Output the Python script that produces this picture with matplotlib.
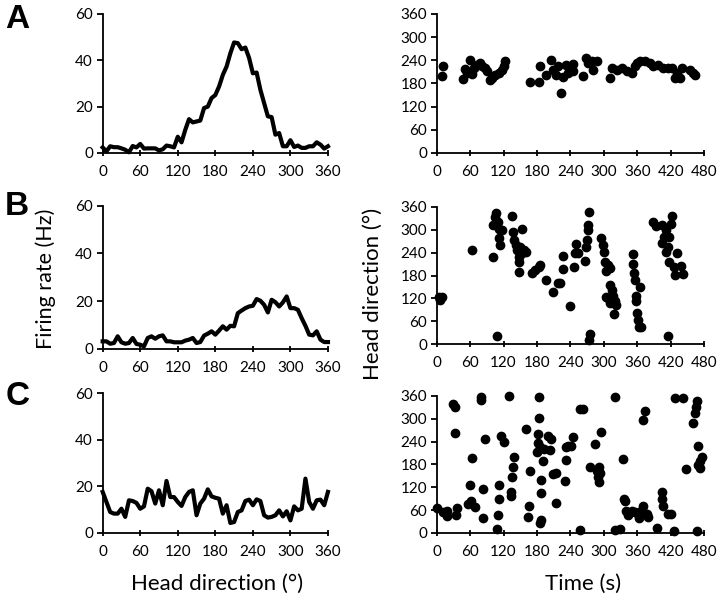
import numpy as np
import matplotlib.pyplot as plt

plt.rcParams['font.family'] = ['Lato', 'DejaVu Sans']

# Tuning curves: firing rate (Hz) in 6-degree bins, 0..360
hd_bins = list(range(0, 361, 6))
rate_a = [2.4, 0.7, 2.9, 2.5, 2.5, 2.0, 1.4, 0.3, 3.0, 2.4, 3.9, 1.9, 2.0, 2.0, 2.0, 1.1,
          1.6, 3.2, 2.9, 2.4, 7.0, 4.6, 10.0, 14.6, 13.2, 13.6, 14.0, 19.4, 20.0, 23.7, 25.0,
          28.7, 33.7, 37.3, 43.0, 47.7, 47.4, 44.8, 45.5, 41.0, 34.4, 34.7, 27.3, 21.5, 15.8,
          15.5, 7.9, 8.6, 2.9, 2.9, 5.5, 2.6, 3.2, 2.2, 2.2, 2.9, 2.9, 4.6, 3.6, 1.9, 2.9]
rate_b = [3.2, 3.2, 2.2, 2.5, 5.3, 2.8, 2.2, 2.5, 4.6, 2.1, 1.8, 1.1, 4.6, 5.3, 4.3, 5.3,
          5.7, 3.2, 3.2, 2.8, 2.8, 2.8, 3.5, 3.9, 4.6, 2.5, 2.9, 5.6, 6.4, 7.4, 6.0,
          7.7, 9.5, 8.1, 9.7, 9.5, 15.0, 16.1, 17.1, 17.8, 18.1, 20.9, 20.2, 18.5, 15.3,
          20.6, 19.6, 17.8, 19.5, 22.0, 17.1, 17.1, 16.4, 12.9, 9.7, 6.0, 5.7, 7.4, 3.9, 2.9, 2.9]
rate_c = [17.6, 13.3, 9.0, 8.3, 8.3, 10.4, 6.9, 14.0, 13.7, 12.9, 10.4, 11.4, 19.0, 17.9, 12.6, 18.3,
          11.9, 22.3, 15.4, 15.4, 13.3, 11.6, 15.4, 17.6, 18.3, 7.6, 12.6, 14.7, 18.7, 15.7, 15.1,
          14.7, 8.3, 11.9, 4.3, 4.7, 9.0, 9.7, 13.7, 14.3, 11.9, 14.4, 13.7, 7.6, 6.6,
          6.9, 7.6, 9.7, 7.1, 9.3, 5.4, 11.4, 9.7, 10.4, 23.3, 13.3, 10.4, 14.0, 14.3, 11.9, 17.6]

# Head direction over time: (time s, head direction deg)
time_a = [10, 12, 48, 50, 54, 59, 63, 67, 72, 77, 81, 87, 91, 95, 99, 105, 111, 117, 120, 123,
          168, 184, 186, 197, 206, 209, 215, 218, 224, 227, 232, 236, 244, 245, 263, 269, 272,
          278, 281, 287, 311, 314, 323, 332, 341, 350, 356, 359, 365, 374, 383, 389, 398, 407,
          416, 422, 428, 431, 437, 440, 455, 461, 464]
dir_a = [200, 224, 191, 218, 207, 240, 205, 220, 228, 234, 224, 220, 211, 188, 194, 202, 207, 215,
         224, 237, 185, 185, 224, 202, 241, 215, 202, 224, 155, 198, 228, 207, 231, 211, 200, 245,
         233, 237, 214, 237, 194, 220, 215, 220, 211, 207, 224, 234, 237, 237, 233, 224, 228, 220,
         220, 220, 194, 207, 194, 220, 215, 207, 202]

time_b = [5, 6, 9, 63, 101, 102, 105, 107, 109, 110, 111, 112, 114, 117, 135, 137, 139, 142, 144,
          147, 148, 150, 153, 148, 154, 156, 160, 171, 177, 183, 186, 197, 208, 218, 221, 226, 226,
          239, 247, 248, 251, 254, 266, 269, 270, 272, 272, 274, 275, 274, 295, 298, 300, 302, 304,
          308, 312, 304, 308, 311, 312, 314, 317, 320, 318, 322, 352, 353, 354, 356, 357, 358, 360,
          361, 363, 365, 367, 389, 394, 404, 408, 412, 415, 404, 411, 416, 418, 422, 420, 427, 428,
          431, 439, 442, 418]
dir_b = [125, 116, 123, 247, 228, 312, 334, 343, 22, 321, 303, 277, 260, 299, 336, 295, 273, 260, 247,
         229, 216, 255, 238, 190, 303, 247, 242, 187, 194, 203, 208, 168, 138, 160, 160, 197, 231,
         101, 203, 240, 262, 238, 218, 255, 273, 299, 312, 345, 27, 10, 277, 260, 241, 216, 193,
         208, 200, 125, 120, 107, 155, 142, 126, 112, 79, 103, 235, 210, 186, 168, 126, 112, 81,
         64, 46, 151, 44, 321, 310, 312, 282, 299, 23, 264, 242, 255, 216, 336, 316, 203, 181,
         238, 205, 183, 282]

time_c = [1, 12, 18, 19, 29, 32, 33, 35, 36, 57, 61, 59, 63, 69, 80, 80, 83, 84, 87, 109, 110, 111,
          111, 115, 121, 129, 133, 134, 135, 137, 138, 160, 164, 166, 167, 184, 184, 182, 182, 181,
          185, 188, 186, 188, 188, 190, 192, 199, 205, 203, 209, 214, 215, 230, 232, 233, 236, 242,
          244, 257, 257, 262, 276, 284, 287, 290, 291, 292, 293, 295, 320, 320, 329, 334, 336, 338,
          340, 344, 350, 356, 360, 364, 368, 371, 374, 371, 377, 380, 396, 404, 405, 406, 416, 420,
          426, 428, 443, 447, 461, 464, 466, 467, 469, 470, 473, 476, 467, 473]
dir_c = [66, 55, 44, 59, 340, 331, 264, 46, 66, 77, 84, 125, 196, 68, 357, 349, 40, 116, 247, 11, 46,
         125, 90, 255, 238, 360, 97, 109, 146, 174, 199, 273, 42, 70, 162, 357, 303, 260, 236, 214,
         225, 35, 26, 105, 138, 190, 222, 255, 247, 218, 155, 157, 80, 136, 192, 225, 229, 228,
         253, 7, 325, 325, 174, 234, 164, 146, 133, 174, 157, 266, 357, 7, 11, 194, 90, 84,
         59, 46, 59, 55, 52, 39, 61, 70, 321, 296, 51, 42, 13, 107, 90, 72, 51, 51,
         5, 354, 354, 168, 288, 316, 330, 347, 229, 179, 190, 199, 5, 171]

rates = [rate_a, rate_b, rate_c]
times = [time_a, time_b, time_c]
dirs = [dir_a, dir_b, dir_c]
letters = ['A', 'B', 'C']

fig = plt.figure(figsize=(7.2, 5.99), dpi=100)

# axes rectangles (left, bottom, width, height) in figure fraction
left_rows = [(0.1426, 0.7446, 0.3129, 0.2321),
             (0.1426, 0.4174, 0.3129, 0.2392),
             (0.1426, 0.1102, 0.3129, 0.2337)]
right_rows = [(0.6065, 0.7446, 0.3713, 0.2321),
              (0.6065, 0.4252, 0.3713, 0.2297),
              (0.6065, 0.1102, 0.3713, 0.2287)]
letter_y = [0.968, 0.656, 0.338]


def style(ax):
    for s in ['top', 'right']:
        ax.spines[s].set_visible(False)
    for s in ['left', 'bottom']:
        ax.spines[s].set_linewidth(1.3)
    ax.tick_params(axis='y', direction='out', length=4, width=1.3, labelsize=11, pad=3)
    ax.tick_params(axis='x', direction='inout', length=5, width=1.3, labelsize=11, pad=6)


for i in range(3):
    ax = fig.add_axes(left_rows[i])
    ax.plot(hd_bins, rates[i], color='black', lw=3, solid_joinstyle='round', clip_on=False)
    ax.set_xlim(0, 360)
    ax.set_ylim(0, 60)
    ax.set_xticks(range(0, 361, 60))
    ax.set_yticks(range(0, 61, 20))
    style(ax)

    ax2 = fig.add_axes(right_rows[i])
    ax2.plot(times[i], dirs[i], 'o', color='black', ms=6, clip_on=False)
    ax2.set_xlim(0, 480)
    ax2.set_ylim(0, 360)
    ax2.set_xticks(range(0, 481, 60))
    ax2.set_yticks(range(0, 361, 60))
    style(ax2)

    fig.text(0.024, letter_y[i], letters[i], fontsize=24, fontweight='bold',
             family='Liberation Sans', va='center', ha='center')

fig.text(0.063, 0.535, 'Firing rate (Hz)', rotation=90, fontsize=15.5, va='center', ha='center')
fig.text(0.518, 0.51, 'Head direction (°)', rotation=90, fontsize=16, va='center', ha='center')
fig.text(0.302, 0.025, 'Head direction (°)', fontsize=16, va='center', ha='center')
fig.text(0.81, 0.025, 'Time (s)', fontsize=16, va='center', ha='center')

fig.savefig('out.png', dpi=100)
